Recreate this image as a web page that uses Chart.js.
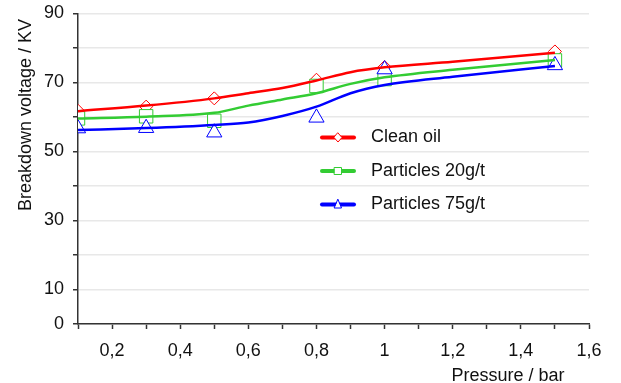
<!DOCTYPE html>
<html>
<head>
<meta charset="utf-8">
<script src="https://cdn.jsdelivr.net/npm/chart.js@4.4.0/dist/chart.umd.min.js"></script>
<style>
  body { margin: 0; background: #fff; }
</style>
</head>
<body>
<canvas id="myChart" width="621" height="383"></canvas>
<script>
// measured points
const pressure = [0.1, 0.3, 0.5, 0.8, 1.0, 1.5];
const cleanOil = [61.8, 63.0, 65.4, 70.8, 74.5, 79.0];
const particles20 = [59.6, 60.2, 58.9, 69.0, 71.0, 76.4];
const particles75 = [56.7, 56.8, 55.5, 59.8, 73.8, 75.0];

// fitted curves
const curvePressure = [0.1, 0.3, 0.5, 0.6, 0.7, 0.8, 0.9, 1.0, 1.2, 1.5];
const cleanOilCurve = [61.7, 63.3, 65.4, 66.9, 68.4, 70.6, 73.0, 74.4, 76.0, 78.6];
const particles20Curve = [59.6, 60.1, 61.2, 63.3, 65.1, 66.9, 69.6, 71.5, 73.7, 76.5];
const particles75Curve = [56.2, 56.8, 57.7, 58.4, 60.3, 63.0, 66.9, 69.3, 71.7, 74.8];

const seriesNames = ["Clean oil", "Particles 20g/t", "Particles 75g/t"];
const yTickLabels = [0, 10, 30, 50, 70, 90];
const xTickLabels = [0.2, 0.4, 0.6, 0.8, 1, 1.2, 1.4, 1.6];

const RED = "#ff0000";
const GREEN = "#33cc33";
const BLUE = "#0000ff";
const FONT = "'Liberation Sans', Arial, sans-serif";

function pts(xs, ys) {
  return xs.map((x, i) => ({ x: x, y: ys[i] }));
}

function markerSet(label, ys, color, style, radius, order) {
  return {
    label: label,
    data: pts(pressure, ys),
    showLine: false,
    pointStyle: style,
    radius: radius,
    pointBackgroundColor: "#fff",
    pointBorderColor: color,
    pointBorderWidth: 1,
    order: order,
  };
}

function curveSet(label, ys, color, order) {
  return {
    label: label,
    data: pts(curvePressure, ys),
    showLine: true,
    borderColor: color,
    borderWidth: 2.5,
    radius: 0,
    cubicInterpolationMode: "monotone",
    order: order,
  };
}

// legend + axis titles drawn by hand, placed like the original
const annotations = {
  id: "annotations",
  afterDraw(chart) {
    const c = chart.ctx;
    c.save();
    c.fillStyle = "#111";
    c.font = "18px " + FONT;

    c.save();
    c.translate(31, 115);
    c.rotate(-Math.PI / 2);
    c.textAlign = "center";
    c.textBaseline = "alphabetic";
    c.fillText("Breakdown voltage / KV", 0, 0);
    c.restore();

    c.textAlign = "center";
    c.fillText("Pressure / bar", 508, 381);

    const colors = [RED, GREEN, BLUE];
    const styles = ["diamond", "square", "triangle"];
    const baselines = [142, 175.5, 209];
    c.textAlign = "left";
    for (let i = 0; i < 3; i++) {
      const ly = baselines[i] - 4.5;
      c.strokeStyle = colors[i];
      c.lineWidth = 4;
      c.lineCap = "round";
      c.beginPath();
      c.moveTo(322, ly);
      c.lineTo(354, ly);
      c.stroke();

      c.lineWidth = 1;
      c.fillStyle = "#fff";
      c.beginPath();
      if (styles[i] === "diamond") {
        c.moveTo(338, ly - 4.5);
        c.lineTo(342, ly);
        c.lineTo(338, ly + 4.5);
        c.lineTo(334, ly);
      } else if (styles[i] === "square") {
        c.rect(334.5, ly - 3.5, 7, 7);
      } else {
        c.moveTo(338, ly - 5);
        c.lineTo(341.5, ly + 3.5);
        c.lineTo(334.5, ly + 3.5);
      }
      c.closePath();
      c.fill();
      c.stroke();

      c.fillStyle = "#111";
      c.fillText(seriesNames[i], 371, baselines[i]);
    }
    c.restore();
  },
};

const ctx = document.getElementById("myChart").getContext("2d");

const config = {
  type: "scatter",
  data: {
    datasets: [
      curveSet(seriesNames[0], cleanOilCurve, RED, 3),
      curveSet(seriesNames[1], particles20Curve, GREEN, 2),
      curveSet(seriesNames[2], particles75Curve, BLUE, 1),
      markerSet(seriesNames[0], cleanOil, RED, "rectRot", 6.5, 6),
      markerSet(seriesNames[1], particles20, GREEN, "rect", 9.5, 5),
      markerSet(seriesNames[2], particles75, BLUE, "triangle", 8.8, 4),
    ],
  },
  plugins: [annotations],
  options: {
    responsive: false,
    animation: false,
    layout: {
      padding: { left: 0, right: 32, top: 13.5, bottom: 0 },
    },
    plugins: {
      legend: { display: false },
      tooltip: { enabled: false },
    },
    scales: {
      x: {
        type: "linear",
        min: 0.1,
        max: 1.6,
        afterFit: (scale) => {
          scale.height = 59;
          scale.paddingLeft = 0;
          scale.paddingRight = 0;
        },
        border: { color: "#333", width: 1.5 },
        grid: {
          drawOnChartArea: false,
          tickLength: 5,
          tickColor: "#333",
          tickWidth: 1.5,
        },
        ticks: {
          stepSize: 0.1,
          autoSkip: false,
          maxRotation: 0,
          padding: 11,
          color: "#111",
          font: { size: 18, family: FONT },
          callback: function (value) {
            const v = Math.round(value * 10) / 10;
            if (!xTickLabels.some((t) => Math.abs(t - v) < 1e-6)) return "";
            return String(v).replace(".", ",");
          },
        },
      },
      y: {
        min: 0,
        max: 90,
        afterFit: (scale) => {
          scale.width = 78;
          scale.paddingTop = 0;
          scale.paddingBottom = 0;
        },
        border: { color: "#333", width: 1.5 },
        grid: {
          color: "#e8e8e8",
          lineWidth: 1.5,
          tickLength: 5,
          tickColor: "#333",
          tickWidth: 1.5,
        },
        ticks: {
          stepSize: 10,
          autoSkip: false,
          padding: 9,
          color: "#111",
          font: { size: 18, family: FONT },
          callback: function (value) {
            return yTickLabels.includes(value) ? value : "";
          },
        },
      },
    },
  },
};

const myChart = new Chart(ctx, config);
</script>
</body>
</html>
